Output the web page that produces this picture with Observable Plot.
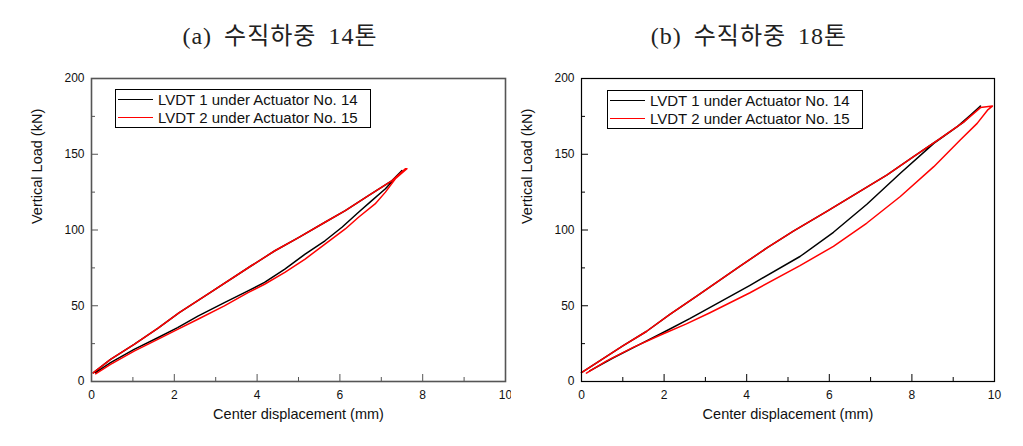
<!DOCTYPE html>
<html>
<head>
<meta charset="utf-8">
<script src="https://cdn.jsdelivr.net/npm/d3@7"></script>
<script src="https://cdn.jsdelivr.net/npm/@observablehq/plot@0.6"></script>
<style>
  html, body { margin: 0; padding: 0; background: #fff; }
  #root { position: relative; width: 1023px; height: 446px; overflow: hidden; background: #fff; }
  .panel { position: absolute; top: 60px; }
  .title { position: absolute; top: 16px; font-family: "Liberation Serif", "Noto Sans CJK KR", serif; font-size: 24px; letter-spacing: 1px; word-spacing: 5px; color: #222; white-space: nowrap; transform: translateX(-50%); }
  .legend { position: absolute; border: 1.2px solid #000; background: #fff; font-family: "Liberation Sans", Arial, sans-serif; font-size: 15px; color: #111; padding: 0 4px 0 2px; }
  .legend .row { display: flex; align-items: center; height: 18.5px; }
  .legend .sw { width: 35px; height: 0; border-top: 1.4px solid; margin-right: 5px; }
</style>
</head>
<body>
<div id="root"></div>
<script>
// ---------- data ----------
const titles = ["(a) 수직하중 14톤", "(b) 수직하중 18톤"];
const seriesNames = ["LVDT 1 under Actuator No. 14", "LVDT 2 under Actuator No. 15"];
const seriesColors = ["#000000", "#ff0000"];
const xMajorTicks = [0, 2, 4, 6, 8, 10];
const xMinorTicks = [1, 3, 5, 7, 9];
const yMajorTicks = [0, 50, 100, 150, 200];
const yMinorTicks = [25, 75, 125, 175];

// (a) 14 ton — LVDT 1 (loading then unloading)
const aLvdt1Disp = [0.10,0.46,1.03,1.60,2.08,2.57,3.21,3.78,4.18,4.67,5.16,5.64,6.05,6.45,6.77,7.10,7.50,
                    7.26,6.69,6.13,5.64,5.00,4.43,3.86,2.81,2.12,1.60,1.03,0.46,0.04];
const aLvdt1Load = [5.8,12.4,21.2,28.9,35.6,43.2,52.1,59.8,65.4,74.2,84.1,92.9,101.8,111.7,119.4,127.2,139.3,
                    132.6,122.7,112.8,105.1,95.0,86.3,76.4,57.6,45.5,35.0,24.5,14.6,5.7];
// (a) 14 ton — LVDT 2
const aLvdt2Disp = [0.10,0.46,1.03,1.60,2.08,2.57,3.21,3.78,4.18,4.67,5.16,5.64,6.13,6.45,6.85,7.10,7.34,7.62,
                    7.58,7.26,6.69,6.13,5.64,5.00,4.43,3.86,2.81,2.12,1.60,1.03,0.46,0.04];
const aLvdt2Load = [5.1,11.3,20.1,27.8,34.4,41.1,49.9,58.7,64.2,72.0,80.8,90.7,100.7,108.4,117.2,125.0,133.8,140.4,
                    140.4,132.6,122.7,112.8,105.1,95.0,86.3,76.4,57.6,45.5,35.0,24.5,14.6,5.7];

// (b) 18 ton — LVDT 1
const bLvdt1Disp = [0.20,0.76,1.41,2.06,2.62,2.95,4.08,5.29,6.10,6.91,7.72,8.53,9.10,9.42,9.66,
                    9.26,8.69,8.04,7.40,6.67,5.94,5.13,4.49,3.84,2.79,2.14,1.57,1.00,0.44,0.00];
const bLvdt1Load = [7.0,15.5,24.5,33.5,41.5,46.5,63.5,82.5,98.5,117.0,137.5,157.2,168.2,175.9,181.8,
                    171.4,160.5,148.4,136.4,124.4,112.3,99.2,88.2,76.1,56.4,44.3,33.0,23.5,13.6,5.9];
// (b) 18 ton — LVDT 2
const bLvdt2Disp = [0.12,0.60,1.25,1.90,2.54,3.11,4.08,5.29,6.10,6.91,7.72,8.53,9.17,9.58,9.83,9.95,
                    9.66,9.26,8.69,8.04,7.40,6.67,5.94,5.13,4.49,3.84,2.79,2.14,1.57,1.00,0.44,0.00];
const bLvdt2Load = [5.5,13.5,22.5,30.5,38.0,45.4,58.6,76.5,89.2,104.6,122.1,141.8,159.4,170.4,179.1,181.8,
                    180.8,171.4,160.5,148.4,136.4,124.4,112.3,99.2,88.2,76.1,56.4,44.3,33.0,23.5,13.6,5.9];

// ---------- build ----------
const toRows = (xs, ys) => xs.map((x, i) => ({x, y: ys[i]}));
const panels = [
  {title: titles[0], series: [toRows(aLvdt1Disp, aLvdt1Load), toRows(aLvdt2Disp, aLvdt2Load)],
   left: 0, mL: 91, mR: 6, frameColor: "#555", frameWidth: 1.6, titleX: 280,
   legend: {left: 115, top: 89, width: 248}},
  {title: titles[1], series: [toRows(bLvdt1Disp, bLvdt1Load), toRows(bLvdt2Disp, bLvdt2Load)],
   left: 511, mL: 70, mR: 28, frameColor: "#000", frameWidth: 1.2, titleX: 749,
   legend: {left: 607, top: 90, width: 248}}
];

const root = document.getElementById("root");
const W = 511, H = 386, mT = 18, mB = 65;
const frameH = H - mT - mB;

for (const p of panels) {
  const frameW = W - p.mL - p.mR;
  const marks = [];
  p.series.forEach((rows, i) => {
    marks.push(Plot.line(rows, {x: "x", y: "y", stroke: seriesColors[i], strokeWidth: 1.5, curve: "linear"}));
  });
  marks.push(
    Plot.frame({stroke: p.frameColor, strokeWidth: p.frameWidth}),
    // inward ticks
    Plot.tickX(xMajorTicks, {x: d => d, stroke: p.frameColor, strokeWidth: 1, insetTop: frameH - 7}),
    Plot.tickX(xMinorTicks, {x: d => d, stroke: p.frameColor, strokeWidth: 1, insetTop: frameH - 4}),
    Plot.tickY(yMajorTicks, {y: d => d, stroke: p.frameColor, strokeWidth: 1, insetRight: frameW - 7}),
    Plot.tickY(yMinorTicks, {y: d => d, stroke: p.frameColor, strokeWidth: 1, insetRight: frameW - 4}),
    Plot.axisX(xMajorTicks, {tickSize: 0, tickPadding: 9, label: null, fontSize: 12, fill: "#111"}),
    Plot.axisY(yMajorTicks, {tickSize: 0, tickPadding: 7, label: null, fontSize: 12, fill: "#111"}),
    Plot.text(["Vertical Load (kN)"], {frameAnchor: "left", dx: -54, dy: -6, rotate: -90, fontSize: 14.5, fill: "#111"}),
    Plot.text(["Center displacement (mm)"], {frameAnchor: "bottom", dy: 37, fontSize: 14.5, fill: "#111"})
  );
  const svg = Plot.plot({
    width: W, height: H,
    marginLeft: p.mL, marginRight: p.mR, marginTop: mT, marginBottom: mB,
    x: {domain: [0, 10], axis: null},
    y: {domain: [0, 200], axis: null},
    style: {fontFamily: "'Liberation Sans', Arial, sans-serif", fontSize: "12px", background: "transparent", color: "#111"},
    marks
  });
  const wrap = document.createElement("div");
  wrap.className = "panel";
  wrap.style.left = p.left + "px";
  wrap.appendChild(svg);
  root.appendChild(wrap);

  const t = document.createElement("div");
  t.className = "title";
  t.style.left = p.titleX + "px";
  t.textContent = p.title;
  root.appendChild(t);

  const lg = document.createElement("div");
  lg.className = "legend";
  lg.style.left = p.legend.left + "px";
  lg.style.top = p.legend.top + "px";
  lg.style.width = p.legend.width + "px";
  seriesNames.forEach((name, i) => {
    const row = document.createElement("div");
    row.className = "row";
    const sw = document.createElement("span");
    sw.className = "sw";
    sw.style.borderTopColor = seriesColors[i];
    const tx = document.createElement("span");
    tx.textContent = name;
    row.appendChild(sw); row.appendChild(tx);
    lg.appendChild(row);
  });
  root.appendChild(lg);
}
</script>
</body>
</html>
